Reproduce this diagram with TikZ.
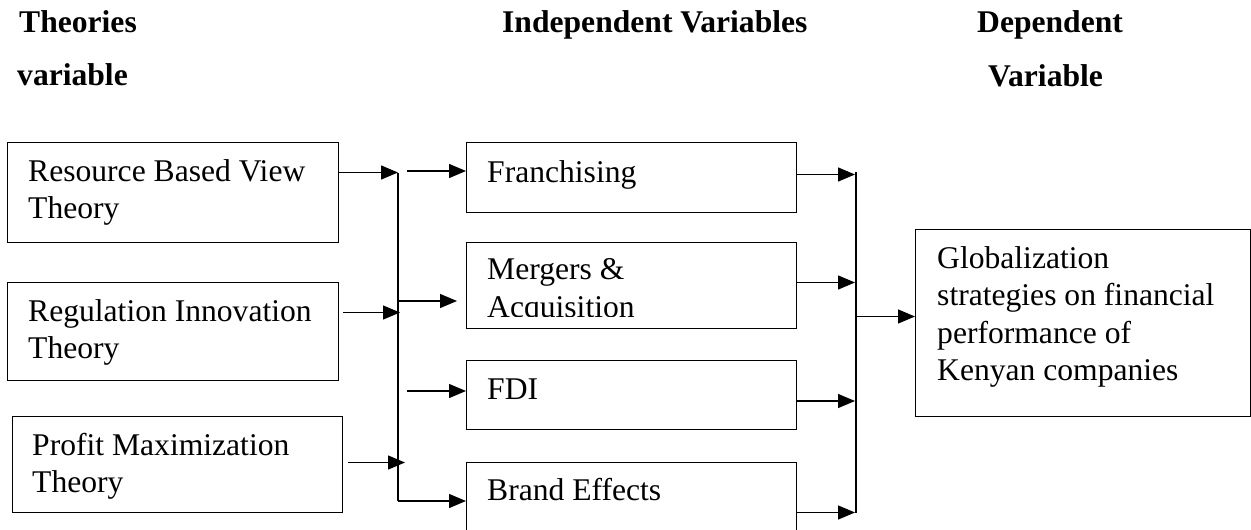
\documentclass[tikz,border=0pt]{standalone}
\usepackage{fontspec}
\setmainfont{Liberation Serif}
\usetikzlibrary{arrows.meta}

% first-line-baseline block of left aligned rows
\newcommand\txtrows[1]{\begin{tabular}[t]{@{}l@{}}#1\end{tabular}}

\tikzset{
  box/.style={draw, line width=1.3pt, anchor=north west, inner sep=0pt},
  lbl/.style={anchor=base west, inner sep=0pt,
              font=\fontsize{31.6}{37.5}\selectfont},
  head/.style={anchor=base west, inner sep=0pt,
               font=\fontsize{31.6}{37.5}\selectfont\bfseries},
  wire/.style={line width=1.3pt},
  arr/.style={line width=1.3pt, -{Triangle[length=17pt,width=14pt]}}
}

\begin{document}
\begin{tikzpicture}[x=1pt,y=-1pt]
\useasboundingbox (0,0) rectangle (1251,530);
\clip (0,0) rectangle (1251,530);

% column headings
\node[head] (h1) at (19,32) {Theories};
\node[head] (h2) at (17,85) {variable};
\node[head] (h3) at (502,32) {Independent Variables};
\node[head] (h4) at (977,32) {Dependent};
\node[head] (h5) at (988,86) {Variable};

% theory boxes
\node[box, minimum width=331pt, minimum height=100pt] (t1) at (7,142) {};
\node[box, minimum width=331pt, minimum height=98pt]  (t2) at (7,282) {};
\node[box, minimum width=330pt, minimum height=96pt]  (t3) at (12,416) {};
\node[lbl] (t1l) at (28,181) {\txtrows{Resource Based View\\Theory}};
\node[lbl] (t2l) at (28,321) {\txtrows{Regulation Innovation\\Theory}};
\node[lbl] (t3l) at (32,455) {\txtrows{Profit Maximization\\Theory}};

% independent variable boxes
\node[box, minimum width=330pt, minimum height=70pt] (fr)  at (466,142) {};
\node[box, minimum width=330pt, minimum height=86pt] (mg)  at (466,242) {};
\node[box, minimum width=330pt, minimum height=69pt] (fdi) at (466,360) {};
\node[box, minimum width=330pt, minimum height=70pt] (br)  at (466,462) {};
\node[lbl] (frl)  at (487,182) {Franchising};
\begin{scope}
  \clip (466,242) rectangle (796,316.5);
  \node[lbl] (mgl) at (487,279.5) {\txtrows{Mergers \&\\Acquisition}};
\end{scope}
\node[lbl] (fdil) at (487,399) {FDI};
\node[lbl] (brl)  at (487,500) {Brand Effects};

% dependent variable box
\node[box, minimum width=335pt, minimum height=187pt] (gl) at (915,229) {};
\node[lbl] (gll) at (937,268)
  {\txtrows{Globalization\\strategies on financial\\performance of\\Kenyan companies}};

% left junction
\coordinate (j1) at (398,172.5);
\coordinate (j2) at (400,312.5);
\coordinate (j3) at (405,462.5);
\coordinate (sTop) at (398,173);
\coordinate (sBot) at (398,501);
\draw[arr] (t1.east |- j1) -- (j1);
\draw[arr] ([xshift=4pt]t2.east |- j2) -- (j2);
\draw[arr] ([xshift=5pt]t3.east |- j3) -- (j3);
\draw[wire] (sTop) -- (sBot);
\draw[arr] (sBot) -- (br.west |- sBot);

\coordinate (f0) at (407,171);
\coordinate (m0) at (398,301);
\coordinate (m1) at (457,301);
\coordinate (d0) at (407,391);
\draw[arr] (f0) -- (fr.west |- f0);
\draw[arr] (m0) -- (m1);
\draw[arr] (d0) -- (fdi.west |- d0);

% right junction
\coordinate (k1) at (855,174.5);
\coordinate (k2) at (855,282.5);
\coordinate (k3) at (855,401);
\coordinate (k4) at (855,512.5);
\coordinate (rTop) at (856,172);
\coordinate (rBot) at (856,513);
\coordinate (rMid) at (856,316.5);
\draw[arr] (fr.east |- k1) -- (k1);
\draw[arr] (mg.east |- k2) -- (k2);
\draw[arr] (fdi.east |- k3) -- (k3);
\draw[arr] (br.east |- k4) -- (k4);
\draw[wire] (rTop) -- (rBot);
\draw[arr] (rMid) -- (gl.west |- rMid);
\end{tikzpicture}
\end{document}
